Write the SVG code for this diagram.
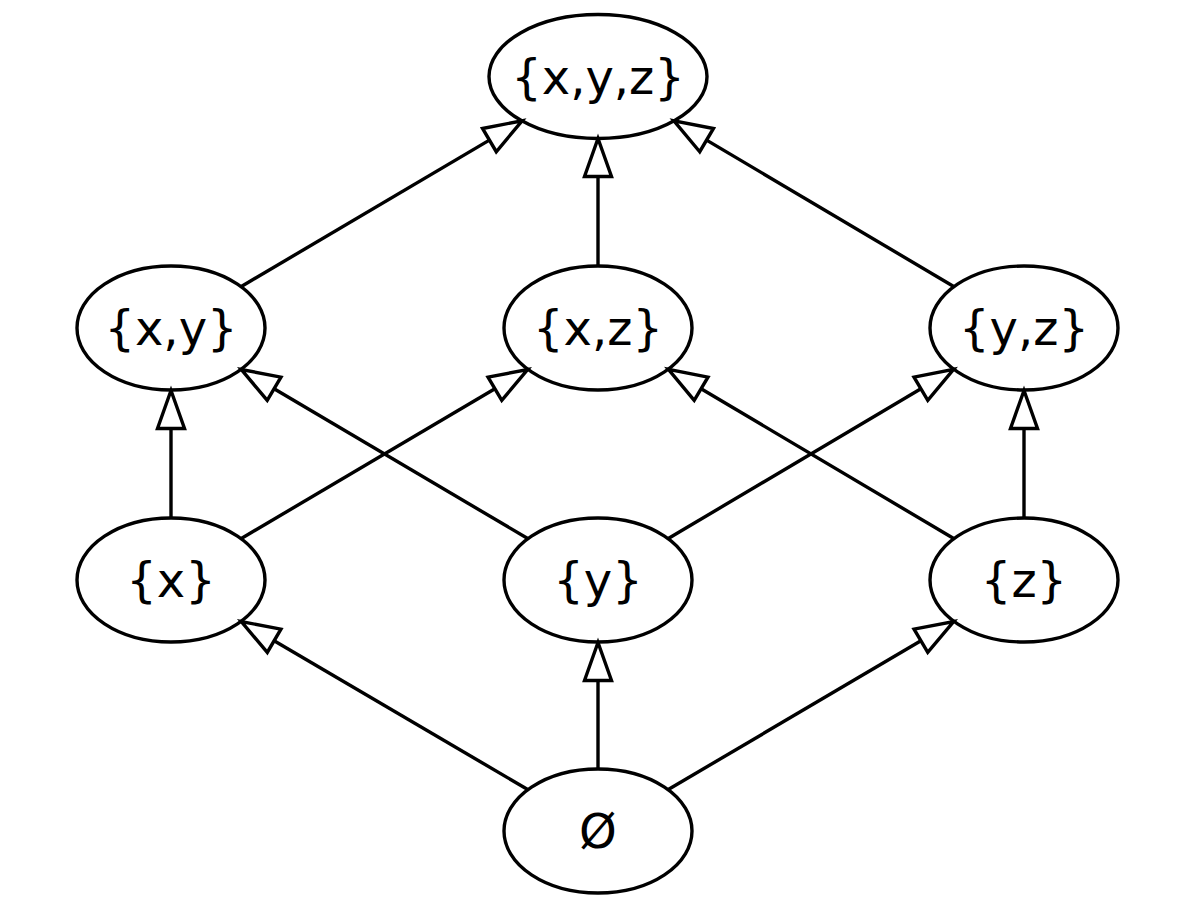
<svg xmlns="http://www.w3.org/2000/svg" width="1200" height="909" viewBox="0 0 1200 909">
<style>
.node ellipse{fill:none;stroke:#000;stroke-width:3.4}
.node text{font-family:"DejaVu Sans",sans-serif;font-size:48px;text-anchor:middle;fill:#000}
.edges line{stroke:#000;stroke-width:3.4;marker-end:url(#arr)}
</style>
<defs>
<marker id="arr" markerUnits="userSpaceOnUse" markerWidth="42" markerHeight="32" viewBox="-2 -16 42 32" refX="0" refY="0" orient="auto" overflow="visible">
<path d="M0,-13.5 L38,0 L0,13.5 Z" fill="#fff" stroke="#000" stroke-width="3.4"/>
</marker>
</defs>
<rect width="1200" height="909" fill="#fff"/>
<g class="edges">
<line x1="241.3" y1="286.5" x2="489.4" y2="140.1"/>
<line x1="598" y1="265.5" x2="598" y2="176.5"/>
<line x1="953.7" y1="286.5" x2="706.6" y2="140.1"/>
<line x1="171" y1="517.5" x2="171" y2="428.5"/>
<line x1="241.3" y1="538.5" x2="494.9" y2="388.8"/>
<line x1="527.7" y1="538.5" x2="274.1" y2="388.8"/>
<line x1="668.3" y1="538.5" x2="920.9" y2="388.8"/>
<line x1="953.7" y1="538.5" x2="701.1" y2="388.8"/>
<line x1="1024" y1="517.5" x2="1024" y2="428.5"/>
<line x1="527.7" y1="789.5" x2="274.1" y2="640.8"/>
<line x1="598" y1="768.5" x2="598" y2="680.5"/>
<line x1="668.3" y1="789.5" x2="920.9" y2="640.8"/>
</g>
<g id="xyz" class="node"><ellipse cx="598" cy="76.5" rx="109" ry="62"/><text x="598" y="93.5">{x,y,z}</text></g>
<g id="xy" class="node"><ellipse cx="171" cy="328" rx="94" ry="62"/><text x="171" y="345">{x,y}</text></g>
<g id="xz" class="node"><ellipse cx="598" cy="328" rx="94" ry="62"/><text x="598" y="345">{x,z}</text></g>
<g id="yz" class="node"><ellipse cx="1024" cy="328" rx="94" ry="62"/><text x="1024" y="345">{y,z}</text></g>
<g id="x" class="node"><ellipse cx="171" cy="580" rx="94" ry="62"/><text x="171" y="597">{x}</text></g>
<g id="y" class="node"><ellipse cx="598" cy="580" rx="94" ry="62"/><text x="598" y="597">{y}</text></g>
<g id="z" class="node"><ellipse cx="1024" cy="580" rx="94" ry="62"/><text x="1024" y="597">{z}</text></g>
<g id="empty" class="node"><ellipse cx="598" cy="831" rx="94" ry="62"/><text x="598" y="848">Ø</text></g>
</svg>
